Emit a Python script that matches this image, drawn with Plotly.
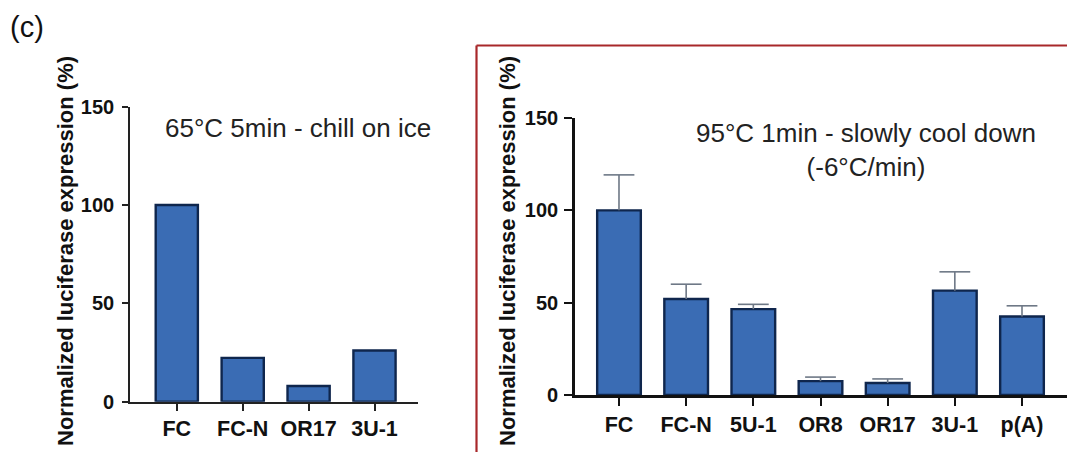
import plotly.graph_objects as go

# ---- data ----
left_cats = ["FC", "FC-N", "OR17", "3U-1"]
left_vals = [100, 22.3, 8, 26]

right_cats = ["FC", "FC-N", "5U-1", "OR8", "OR17", "3U-1", "p(A)"]
right_vals = [100, 52, 46.5, 7.5, 6.5, 56.5, 42.5]
right_err = [19.2, 8, 2.6, 2.2, 2.2, 10.2, 5.8]

y_ticks = [0, 50, 100, 150]
ytitle = "Normalized luciferase expression (%)"

# ---- style ----
# the page body adds an 8px offset; size the figure to fill the rest
OFF = 8
W, H = 1075 - OFF, 452 - OFF
bar_fill = "#3a6cb4"
bar_edge = "#0f264d"
err_col = "#6e7886"
FONT = "Liberation Sans, Arial, sans-serif"


def px(x):
    return (x - OFF) / W


def py(y):
    return 1 - (y - OFF) / H


fig = go.Figure()

fig.add_trace(go.Bar(
    x=left_cats, y=left_vals, width=0.64,
    marker=dict(color=bar_fill, line=dict(color=bar_edge, width=2.4)),
    xaxis="x", yaxis="y", showlegend=False,
))

fig.add_trace(go.Bar(
    x=right_cats, y=right_vals, width=0.65,
    marker=dict(color=bar_fill, line=dict(color=bar_edge, width=2.4)),
    xaxis="x2", yaxis="y2", showlegend=False,
))

# upper-only error bars: stem via error_y (no caps), cap via line marker
tops = [v + e for v, e in zip(right_vals, right_err)]
fig.add_trace(go.Scatter(
    x=right_cats, y=tops, mode="markers",
    marker=dict(symbol="line-ew", size=22, color=err_col,
                line=dict(color=err_col, width=1.6)),
    error_y=dict(type="data", symmetric=False, array=[0] * len(right_err),
                 arrayminus=right_err, width=0, thickness=1.6, color=err_col),
    xaxis="x2", yaxis="y2", showlegend=False, hoverinfo="skip",
))

ytickfont = dict(family=FONT, size=20, color="#111", weight="bold")
xtickfont = dict(family=FONT, size=21.5, color="#111", weight="bold")

fig.update_layout(
    width=W, height=H,
    margin=dict(l=0, r=0, t=0, b=0, pad=0, autoexpand=False),
    paper_bgcolor="white", plot_bgcolor="white",
    xaxis=dict(domain=[px(130), px(418)], range=[-0.71, 3.66],
               type="category", showline=True, linecolor="#222", linewidth=1.6,
               ticks="outside", ticklen=7, tickwidth=1.8, tickcolor="#222",
               tickfont=xtickfont, showgrid=False, zeroline=False,
               automargin=False, anchor="y"),
    yaxis=dict(domain=[py(401.7), py(106.7)], range=[0, 150],
               tickvals=y_ticks, showline=True, linecolor="#222", linewidth=1.6,
               ticks="outside", ticklen=6, tickwidth=1.6, tickcolor="#222",
               tickfont=ytickfont, showgrid=False, zeroline=False,
               ticklabelstandoff=4, automargin=False, anchor="x"),
    xaxis2=dict(domain=[px(575), px(1067)], range=[-0.655, 6.67],
                type="category", showline=True, linecolor="#111", linewidth=2.6,
                ticks="outside", ticklen=8, tickwidth=2.4, tickcolor="#111",
                tickfont=xtickfont, showgrid=False, zeroline=False,
                automargin=False, anchor="y2"),
    yaxis2=dict(domain=[py(395), py(118)], range=[0, 150],
                tickvals=y_ticks, showline=True, linecolor="#111", linewidth=2.6,
                ticks="outside", ticklen=8, tickwidth=2.4, tickcolor="#111",
                tickfont=ytickfont, showgrid=False, zeroline=False,
                ticklabelstandoff=2, automargin=False, anchor="x2"),
)

annots = [
    dict(text="(c)", x=px(8), y=py(27), xanchor="left", yanchor="middle",
         font=dict(family=FONT, size=29, color="#111")),
    dict(text=ytitle, x=px(66), y=py(251), textangle=-90,
         xanchor="center", yanchor="middle",
         font=dict(family=FONT, size=22, color="#111", weight="bold")),
    dict(text=ytitle, x=px(508), y=py(251), textangle=-90,
         xanchor="center", yanchor="middle",
         font=dict(family=FONT, size=22, color="#111", weight="bold")),
    dict(text="65°C 5min - chill on ice", x=px(297.5), y=py(128),
         xanchor="center", yanchor="middle",
         font=dict(family=FONT, size=26, color="#222")),
    dict(text="95°C 1min - slowly cool down<br>(-6°C/min)", x=px(866), y=py(150),
         xanchor="center", yanchor="middle", align="center",
         font=dict(family=FONT, size=26, color="#222")),
]
for a in annots:
    a.update(xref="paper", yref="paper", showarrow=False)
fig.update_layout(annotations=annots)

# red frame around the right panel
fig.add_shape(type="line", xref="paper", yref="paper",
              x0=px(476.5), x1=1.01, y0=py(45.5), y1=py(45.5),
              line=dict(color="#a8282a", width=2.2))
fig.add_shape(type="line", xref="paper", yref="paper",
              x0=px(476.5), x1=px(476.5), y0=py(45.5), y1=-0.02,
              line=dict(color="#a8282a", width=2.2))

fig.write_html("out.html")
